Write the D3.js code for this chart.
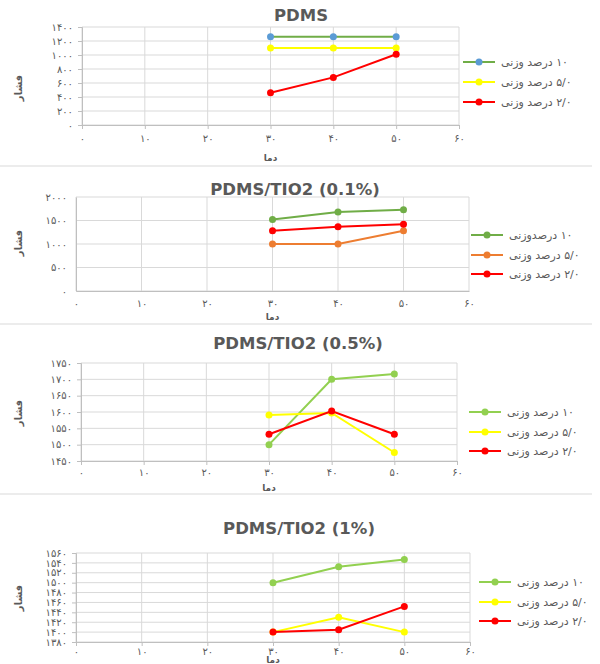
<!DOCTYPE html>
<html><head><meta charset="utf-8">
<script src="https://cdn.jsdelivr.net/npm/d3@7"></script>
<style>body{margin:0;background:#fff}svg{display:block}</style>
</head><body>
<svg id="c" width="600" height="664"></svg>
<script>
// ---------- data ----------
const temps = [30, 40, 50];
const xTicks = [0, 10, 20, 30, 40, 50, 60];
const titles = ["PDMS", "PDMS/TIO2 (0.1%)", "PDMS/TIO2 (0.5%)", "PDMS/TIO2 (1%)"];
const legend1 = ["۱۰ درصد وزنی", "۵/۰ درصد وزنی", "۲/۰ درصد وزنی"];
const legend2 = ["۱۰ درصدوزنی", "۵/۰ درصد وزنی", "۲/۰ درصد وزنی"];
const yLabel = "فشار";
const xLabel = "دما";

const p1_10 = [1260, 1260, 1260];
const p1_05 = [1100, 1100, 1100];
const p1_02 = [460, 680, 1010];

const p2_10 = [1520, 1680, 1730];
const p2_05 = [1000, 1000, 1280];
const p2_02 = [1280, 1365, 1420];

const p3_10 = [1500, 1700, 1716];
const p3_05 = [1591, 1597, 1476];
const p3_02 = [1532, 1603, 1532];

const p4_10 = [1500, 1532, 1547];
const p4_05 = [1400, 1430, 1400];
const p4_02 = [1400, 1405, 1452];

const yTicks1 = [0, 200, 400, 600, 800, 1000, 1200, 1400];
const yTicks2 = [0, 500, 1000, 1500, 2000];
const yTicks3 = [1450, 1500, 1550, 1600, 1650, 1700, 1750];
const yTicks4 = [1380, 1400, 1420, 1440, 1460, 1480, 1500, 1520, 1540, 1560];

// ---------- helpers ----------
const faDigits = "۰۱۲۳۴۵۶۷۸۹";
const fa = n => String(n).replace(/[0-9]/g, d => faDigits[+d]);
const svg = d3.select("#c");
const FONT = "'DejaVu Sans', sans-serif";
const GRID = "#d9d9d9", TXT = "#595959";

// separators
[166, 324, 494].forEach(y => svg.append("line").attr("x1", 0).attr("x2", 592)
  .attr("y1", y).attr("y2", y).attr("stroke", "#d9d9d9").attr("stroke-width", 1));

const panels = [
  {title: titles[0], L: 82, R: 459, T: 27, B: 125, yTicks: yTicks1, titleX: 301, titleY: 21, ticks: true,
   series: [[p1_10, "#70AD47", "#5B9BD5"], [p1_05, "#FFFF00", "#FFFF00"], [p1_02, "#FF0000", "#FF0000"]],
   legend: legend1, lgX: 463, lgY: [62, 82, 102], xTickY: 138, xLabY: 158, yLabY: 88},
  {title: titles[1], L: 76, R: 469, T: 197, B: 291, yTicks: yTicks2, titleX: 295, titleY: 195, ticks: false,
   series: [[p2_10, "#70AD47", "#70AD47"], [p2_05, "#ED7D31", "#ED7D31"], [p2_02, "#FF0000", "#FF0000"]],
   legend: legend2, lgX: 471, lgY: [235, 255, 274], xTickY: 303, xLabY: 317, yLabY: 243},
  {title: titles[2], L: 81, R: 457, T: 363, B: 461, yTicks: yTicks3, titleX: 298, titleY: 349, ticks: true,
   series: [[p3_10, "#92D050", "#92D050"], [p3_05, "#FFFF00", "#FFFF00"], [p3_02, "#FF0000", "#FF0000"]],
   legend: legend1, lgX: 469, lgY: [412, 432, 451], xTickY: 472, xLabY: 488, yLabY: 413},
  {title: titles[3], L: 76, R: 470, T: 553, B: 642, yTicks: yTicks4, titleX: 299, titleY: 534, ticks: true,
   series: [[p4_10, "#92D050", "#92D050"], [p4_05, "#FFFF00", "#FFFF00"], [p4_02, "#FF0000", "#FF0000"]],
   legend: legend1, lgX: 479, lgY: [582, 602, 621], xTickY: 651, xLabY: 660, yLabY: 598}
];

panels.forEach(p => {
  const g = svg.append("g");
  const x = d3.scaleLinear().domain([0, 60]).range([p.L, p.R]);
  const y = d3.scaleLinear().domain(d3.extent(p.yTicks)).range([p.B, p.T]);

  // grid
  g.selectAll(null).data(p.yTicks).join("line")
    .attr("x1", p.L).attr("x2", p.R).attr("y1", d => y(d)).attr("y2", d => y(d))
    .attr("stroke", GRID).attr("stroke-width", 1);
  g.selectAll(null).data(xTicks).join("line")
    .attr("x1", d => x(d)).attr("x2", d => x(d)).attr("y1", p.T).attr("y2", p.B)
    .attr("stroke", GRID).attr("stroke-width", 1);

  // axes
  const ya = d3.axisLeft(y).tickValues(p.yTicks).tickFormat(fa)
    .tickSize(p.ticks ? 4 : 0).tickPadding(p.ticks ? 5 : 9);
  const yg = g.append("g").attr("transform", `translate(${p.L},0)`).call(ya);
  const xa = d3.axisBottom(x).tickValues(xTicks).tickFormat(fa)
    .tickSize(p.ticks ? 4 : 0).tickPadding(0);
  const xg = g.append("g").attr("transform", `translate(0,${p.B})`).call(xa);
  [yg, xg].forEach(a => {
    a.select(".domain").attr("stroke", "#bfbfbf");
    a.selectAll(".tick line").attr("stroke", "#bfbfbf");
    a.selectAll("text").attr("fill", TXT).attr("font-family", FONT).attr("font-size", 10)
      .style("letter-spacing", "2px");
  });
  xg.selectAll("text").attr("y", p.xTickY - p.B).attr("dy", "0.35em");

  // title
  g.append("text").attr("x", p.titleX).attr("y", p.titleY).attr("text-anchor", "middle")
    .attr("font-family", FONT).attr("font-weight", "bold")
    .attr("font-size", 16.5).attr("fill", TXT).text(p.title);

  // axis labels
  g.append("text").attr("transform", `translate(22,${p.yLabY}) rotate(-90)`)
    .attr("text-anchor", "middle").attr("font-family", FONT).attr("font-weight", "bold")
    .attr("font-size", 10).attr("fill", TXT).text(yLabel);
  g.append("text").attr("x", x(30)).attr("y", p.xLabY).attr("dy", "0.35em").attr("text-anchor", "middle")
    .attr("font-family", FONT).attr("font-weight", "bold")
    .attr("font-size", 9).attr("fill", TXT).text(xLabel);

  // series
  const line = d3.line().x((d, i) => x(temps[i])).y(d => y(d));
  p.series.forEach(([vals, lc, mc]) => {
    g.append("path").datum(vals).attr("d", line).attr("fill", "none")
      .attr("stroke", lc).attr("stroke-width", 2);
    g.selectAll(null).data(vals).join("circle")
      .attr("cx", (d, i) => x(temps[i])).attr("cy", d => y(d)).attr("r", 3.5)
      .attr("fill", mc);
  });

  // legend
  p.series.forEach(([vals, lc, mc], i) => {
    const ly = p.lgY[i];
    g.append("line").attr("x1", p.lgX).attr("x2", p.lgX + 32).attr("y1", ly).attr("y2", ly)
      .attr("stroke", lc).attr("stroke-width", 2);
    g.append("circle").attr("cx", p.lgX + 16).attr("cy", ly).attr("r", 3.5).attr("fill", mc);
    g.append("text").attr("x", p.lgX + 38).attr("y", ly).attr("dy", "0.35em")
      .attr("direction", "rtl").attr("text-anchor", "end")
      .attr("font-family", FONT).attr("font-size", 11).attr("fill", TXT).text(p.legend[i]);
  });
});
</script>
</body></html>
